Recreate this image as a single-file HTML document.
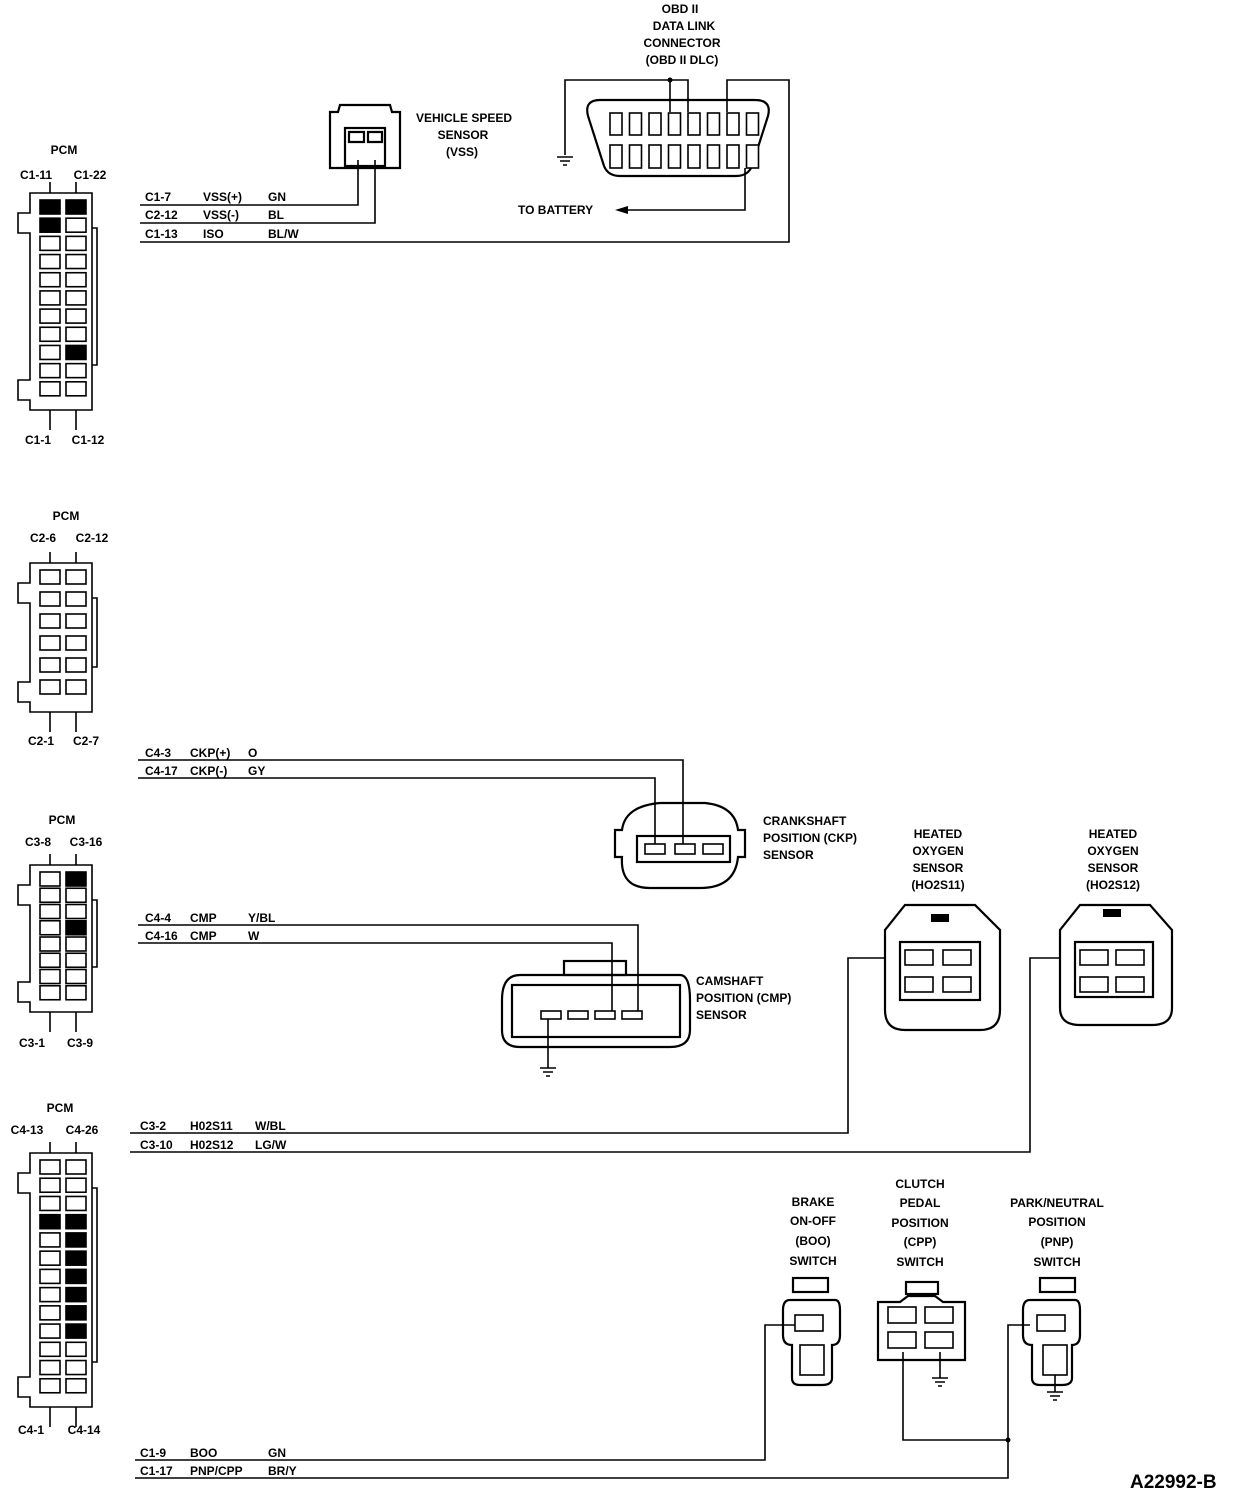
<!DOCTYPE html>
<html><head><meta charset="utf-8"><style>
html,body{margin:0;padding:0;background:#fff}
svg{display:block}
text{font-family:"Liberation Sans",sans-serif;font-weight:bold;font-size:12px;fill:#000}
</style></head><body>
<svg id="s" width="1248" height="1496" viewBox="0 0 1248 1496" xmlns="http://www.w3.org/2000/svg">
<g fill="none" stroke="#000" stroke-width="1.6">
<path d="M140 205H358V160"/><path d="M140 223H375V160"/>
<path d="M140 242H789V80H727V112"/>
<path d="M565 155V80H688V112M670 80V112"/>
<path d="M745 168V210H625"/>
<path d="M138 760H683V845"/><path d="M138 778H655V848"/>
<path d="M138 925H638V1012"/><path d="M138 943H612V1012"/><path d="M548 1018V1068"/>
<path d="M130 1133H848V958H885"/><path d="M130 1152H1030V958H1060"/>
<path d="M135 1460H765V1325H795"/><path d="M903 1352V1440H1008"/><path d="M135 1478H1008V1325H1030"/>
<path d="M940 1352V1378"/><path d="M1055 1372V1392"/>
</g>
<circle cx="670" cy="80" r="2.5"/><circle cx="1008" cy="1440" r="2.5"/>
<path d="M615 210L628 206V214Z"/>
<g stroke="#000" stroke-width="1.6">
<path d="M557 157H573M560 161H570M563 165H567"/>
<path d="M540 1068H556M543 1072H553M546 1076H550"/>
<path d="M932 1378H948M935 1382H945M938 1386H942"/>
<path d="M1047 1392H1063M1050 1396H1060M1053 1400H1057"/>
</g>
<g fill="none" stroke="#000" stroke-width="2.2">
<path d="M340 105H390L392 112H400V168H330V112H338Z"/>
<rect x="345" y="128" width="40" height="38"/>
<path d="M349 132H364V142H349ZM368 132H382V142H368Z"/>
<path d="M600 100H755Q772 100 768 116L752 166Q748 176 736 176H620Q608 176 604 166L588 116Q584 100 600 100Z"/>
<path d="M660 803H705Q735 806 738 830H745V857H738Q735 888 700 888H650Q620 888 622 857H615V830H622Q625 806 660 803Z"/>
<rect x="637" y="836" width="93" height="26"/>
<path d="M520 975H680Q690 975 690 1000V1030Q690 1047 670 1047H520Q502 1047 502 1030V1000Q502 975 520 975Z"/>
<rect x="512" y="985" width="168" height="52"/>
<rect x="564" y="961" width="62" height="14"/>
<path d="M905 905H975L1000 930V1010Q1000 1030 980 1030H905Q885 1030 885 1010V930Z"/>
<rect x="900" y="942" width="80" height="58"/>
<path d="M1080 905H1150L1172 930V1008Q1172 1025 1152 1025H1080Q1060 1025 1060 1008V930Z"/>
<rect x="1075" y="942" width="78" height="55"/>
<rect x="793" y="1278" width="35" height="14"/>
<path d="M790 1300H835Q840 1300 840 1310V1335Q840 1345 832 1345V1378Q832 1385 822 1385H800Q792 1385 792 1378V1345Q783 1345 783 1335V1310Q783 1300 790 1300Z"/>
<rect x="906" y="1282" width="32" height="12"/>
<path d="M878 1302H900L908 1296H935L943 1302H965V1360H878Z"/>
<rect x="1040" y="1278" width="35" height="14"/>
<path d="M1030 1300H1075Q1080 1300 1080 1310V1335Q1080 1345 1072 1345V1378Q1072 1385 1062 1385H1040Q1032 1385 1032 1378V1345Q1023 1345 1023 1335V1310Q1023 1300 1030 1300Z"/>
</g>
<rect x="931" y="914" width="18" height="8"/><rect x="1103" y="909" width="18" height="8"/>
<g id="dyn"></g>
<g>
<text x="680" y="13" text-anchor="middle">OBD II</text>
<text x="684" y="30" text-anchor="middle">DATA LINK</text>
<text x="682" y="47" text-anchor="middle">CONNECTOR</text>
<text x="682" y="64" text-anchor="middle">(OBD II DLC)</text>
<text x="464" y="122" text-anchor="middle">VEHICLE SPEED</text>
<text x="463" y="139" text-anchor="middle">SENSOR</text>
<text x="462" y="156" text-anchor="middle">(VSS)</text>
<text x="518" y="214">TO BATTERY</text>
<text x="145" y="201">C1-7</text><text x="203" y="201">VSS(+)</text><text x="268" y="201">GN</text>
<text x="145" y="219">C2-12</text><text x="203" y="219">VSS(-)</text><text x="268" y="219">BL</text>
<text x="145" y="238">C1-13</text><text x="203" y="238">ISO</text><text x="268" y="238">BL/W</text>
<text x="145" y="757">C4-3</text><text x="190" y="757">CKP(+)</text><text x="248" y="757">O</text>
<text x="145" y="775">C4-17</text><text x="190" y="775">CKP(-)</text><text x="248" y="775">GY</text>
<text x="145" y="922">C4-4</text><text x="190" y="922">CMP</text><text x="248" y="922">Y/BL</text>
<text x="145" y="940">C4-16</text><text x="190" y="940">CMP</text><text x="248" y="940">W</text>
<text x="140" y="1130">C3-2</text><text x="190" y="1130">H02S11</text><text x="255" y="1130">W/BL</text>
<text x="140" y="1149">C3-10</text><text x="190" y="1149">H02S12</text><text x="255" y="1149">LG/W</text>
<text x="140" y="1457">C1-9</text><text x="190" y="1457">BOO</text><text x="268" y="1457">GN</text>
<text x="140" y="1475">C1-17</text><text x="190" y="1475">PNP/CPP</text><text x="268" y="1475">BR/Y</text>
<text x="763" y="825">CRANKSHAFT</text><text x="763" y="842">POSITION (CKP)</text><text x="763" y="859">SENSOR</text>
<text x="696" y="985">CAMSHAFT</text><text x="696" y="1002">POSITION (CMP)</text><text x="696" y="1019">SENSOR</text>
<g text-anchor="middle">
<text x="938" y="838">HEATED</text><text x="938" y="855">OXYGEN</text><text x="938" y="872">SENSOR</text><text x="938" y="889">(HO2S11)</text>
<text x="1113" y="838">HEATED</text><text x="1113" y="855">OXYGEN</text><text x="1113" y="872">SENSOR</text><text x="1113" y="889">(HO2S12)</text>
<text x="813" y="1206">BRAKE</text><text x="813" y="1225">ON-OFF</text><text x="813" y="1245">(BOO)</text><text x="813" y="1265">SWITCH</text>
<text x="920" y="1188">CLUTCH</text><text x="920" y="1207">PEDAL</text><text x="920" y="1227">POSITION</text><text x="920" y="1246">(CPP)</text><text x="920" y="1266">SWITCH</text>
<text x="1057" y="1207">PARK/NEUTRAL</text><text x="1057" y="1226">POSITION</text><text x="1057" y="1246">(PNP)</text><text x="1057" y="1266">SWITCH</text>
<text x="64" y="154">PCM</text><text x="36" y="179">C1-11</text><text x="90" y="179">C1-22</text><text x="38" y="444">C1-1</text><text x="88" y="444">C1-12</text>
<text x="66" y="520">PCM</text><text x="43" y="542">C2-6</text><text x="92" y="542">C2-12</text><text x="41" y="745">C2-1</text><text x="86" y="745">C2-7</text>
<text x="62" y="824">PCM</text><text x="38" y="846">C3-8</text><text x="86" y="846">C3-16</text><text x="32" y="1047">C3-1</text><text x="80" y="1047">C3-9</text>
<text x="60" y="1112">PCM</text><text x="27" y="1134">C4-13</text><text x="82" y="1134">C4-26</text><text x="31" y="1434">C4-1</text><text x="84" y="1434">C4-14</text>
</g>
<text x="1130" y="1488" style="font-size:19px">A22992-B</text>
</g>
</svg>
<script>
var NS="http://www.w3.org/2000/svg",g=document.getElementById("dyn");
function el(t,a){var e=document.createElementNS(NS,t);for(var k in a)e.setAttribute(k,a[k]);g.appendChild(e);return e;}
var st={fill:"none",stroke:"#000","stroke-width":"1.6"};
function R(x,y,w,h,f){el("rect",{x:x,y:y,width:w,height:h,fill:f?"#000":"#fff",stroke:"#000","stroke-width":"1.6"});}
for(var i=0;i<8;i++){R(610+i*19.5,113,12,22);R(610+i*19.5,145,12,23);}
[645,675,703].forEach(function(x){R(x,844,20,10)});
[541,568,595,622].forEach(function(x){R(x,1011,20,8)});
[[905,950],[943,950],[905,977],[943,977]].forEach(function(p){R(p[0],p[1],28,15)});
[[1080,950],[1116,950],[1080,977],[1116,977]].forEach(function(p){R(p[0],p[1],28,15)});
[[795,1315],[888,1307],[925,1307],[888,1332],[925,1332],[1037,1315]].forEach(function(p){R(p[0],p[1],28,16)});
R(800,1345,24,30);R(1043,1345,24,30);
function pcm(top,bot,rows,ys,fills){
 el("path",Object.assign({d:"M30 "+top+"H92V"+bot+"H30V"+(bot-10)+"H18V"+(bot-30)+"H30V"+(top+40)+"H18V"+(top+20)+"H30Z"},st));
 el("path",Object.assign({d:"M92 "+(top+35)+"H97V"+(bot-45)+"H92"},st));
 for(var r=0;r<rows;r++){var y=ys+r*((bot-ys-10)/rows);
  R(40,y,20,14,fills.indexOf(r*2)>=0);R(66,y,20,14,fills.indexOf(r*2+1)>=0);}
 el("path",Object.assign({d:"M50 "+(top-11)+"V"+top+"M76 "+(top-11)+"V"+top+"M50 "+bot+"V"+(bot+20)+"M76 "+bot+"V"+(bot+20)},st));
}
pcm(193,410,11,200,[0,1,2,17]);
pcm(563,712,6,570,[]);
pcm(865,1012,8,872,[1,7]);
pcm(1153,1407,13,1160,[6,7,9,11,13,15,17,19]);
</script>
</body></html>
